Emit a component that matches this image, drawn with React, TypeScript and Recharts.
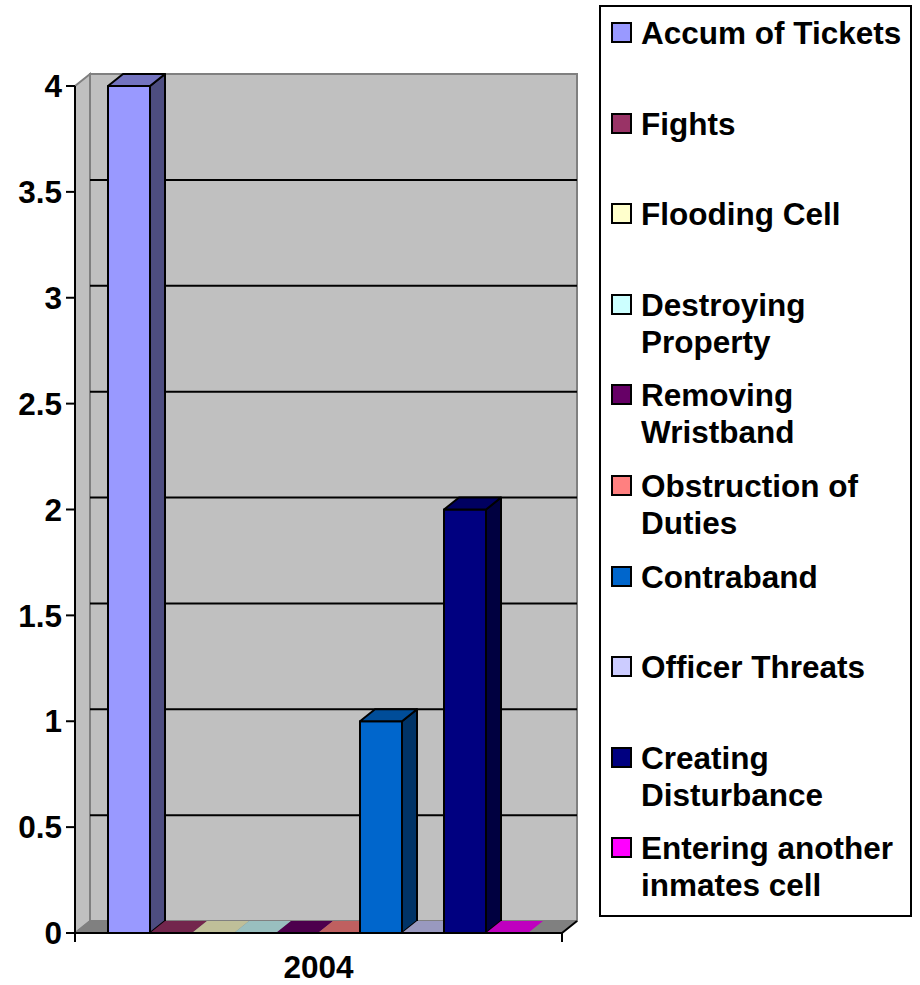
import { BarChart, Bar, XAxis, YAxis, CartesianGrid, ReferenceArea, Legend } from "recharts";

const years = ["2004"];
const seriesNames = [
  "Accum of Tickets",
  "Fights",
  "Flooding Cell",
  "Destroying Property",
  "Removing Wristband",
  "Obstruction of Duties",
  "Contraband",
  "Officer Threats",
  "Creating Disturbance",
  "Entering another inmates cell",
];
const seriesValues = [4, 0, 0, 0, 0, 0, 1, 0, 2, 0];
const seriesColors = [
  "#9999FF",
  "#993366",
  "#FFFFCC",
  "#CCFFFF",
  "#660066",
  "#FF8080",
  "#0066CC",
  "#CCCCFF",
  "#000080",
  "#FF00FF",
];
const yTicks = [0, 0.5, 1, 1.5, 2, 2.5, 3, 3.5, 4];

const data = years.map((year) => {
  const row: Record<string, string | number> = { year };
  seriesValues.forEach((v, i) => {
    row[`s${i}`] = v;
  });
  return row;
});

const FONT = "'Liberation Sans', Arial, Helvetica, sans-serif";
// depth of the fake 3d
const DX = 15;
const DY = -12;

function shade(hex: string, k: number) {
  const n = parseInt(hex.slice(1), 16);
  const r = Math.round(((n >> 16) & 255) * k);
  const g = Math.round(((n >> 8) & 255) * k);
  const b = Math.round((n & 255) * k);
  return `rgb(${r},${g},${b})`;
}

function Bar3D(props: any) {
  const { x, y, width, height, fill } = props;
  const top = shade(fill, 0.75);
  const side = shade(fill, 0.5);
  if (!height || height < 0.5) {
    return (
      <polygon
        points={`${x},${y} ${x + DX},${y + DY} ${x + width + DX},${y + DY} ${x + width},${y}`}
        fill={top}
      />
    );
  }
  return (
    <g stroke="#000" strokeWidth={2} strokeLinejoin="round">
      <rect x={x} y={y} width={width} height={height} fill={fill} />
      <polygon
        points={`${x + width},${y} ${x + width + DX},${y + DY} ${x + width + DX},${y + height + DY} ${x + width},${y + height}`}
        fill={side}
      />
      <polygon
        points={`${x},${y} ${x + DX},${y + DY} ${x + width + DX},${y + DY} ${x + width},${y}`}
        fill={top}
      />
    </g>
  );
}

function Walls(props: any) {
  const { x, y, width, height } = props;
  const b = y + height;
  const r = x + width;
  return (
    <g>
      <rect x={x + DX} y={y + DY} width={width} height={height} fill="#C0C0C0" stroke="#808080" strokeWidth={2} />
      <polygon
        points={`${x},${y} ${x + DX},${y + DY} ${x + DX},${b + DY} ${x},${b}`}
        fill="#C0C0C0"
        stroke="#808080"
        strokeWidth={2}
      />
      <polygon
        points={`${x},${b} ${x + DX},${b + DY} ${r + DX},${b + DY} ${r},${b}`}
        fill="#808080"
        stroke="#808080"
        strokeWidth={1}
      />
      <line x1={r} y1={b} x2={r + DX} y2={b + DY} stroke="#000" strokeWidth={2} />
      <line x1={x} y1={b} x2={x} y2={b + 9} stroke="#000" strokeWidth={2} />
      <line x1={r} y1={b} x2={r} y2={b + 9} stroke="#000" strokeWidth={2} />
    </g>
  );
}

function YearTick(props: any) {
  const { x, y, payload } = props;
  return (
    <text x={x} y={y + 45} textAnchor="middle" fontFamily={FONT} fontWeight="bold" fontSize={31.5} fill="#000">
      {payload.value}
    </text>
  );
}

function LegendBox(props: any) {
  const payload = [...(props.payload || [])].sort(
    (a: any, b: any) => seriesNames.indexOf(a.value) - seriesNames.indexOf(b.value)
  );
  return (
    <div
      style={{
        boxSizing: "border-box",
        width: 313,
        height: 912,
        border: "2px solid #000",
        background: "#fff",
        paddingTop: 8,
        paddingLeft: 10,
        fontFamily: FONT,
        fontWeight: "bold",
        fontSize: 31.5,
        color: "#000",
        textAlign: "left",
      }}
    >
      {payload.map((p: any) => (
        <div key={p.value} style={{ display: "flex", alignItems: "flex-start", height: 90.6 }}>
          <span
            style={{
              boxSizing: "border-box",
              width: 21,
              height: 21,
              border: "2px solid #000",
              background: p.color,
              marginTop: 7,
              marginRight: 9,
              flex: "none",
            }}
          />
          <span style={{ lineHeight: "37px", width: 268 }}>{p.value}</span>
        </div>
      ))}
    </div>
  );
}

export default function App() {
  return (
    <div style={{ position: "absolute", left: 0, top: 0, width: 920, height: 985, background: "#fff" }}>
      <BarChart
        width={920}
        height={985}
        data={data}
        margin={{ top: 86, right: 358, bottom: 0, left: 0 }}
        barCategoryGap={33}
        barGap={0}
      >
        <ReferenceArea y1={0} y2={4} shape={<Walls />} ifOverflow="visible" zIndex={-150} />
        <CartesianGrid
          vertical={false}
          horizontalValues={yTicks.slice(1, -1)}
          horizontal={(p: any) => (
            <line
              key={`g${p.index}`}
              x1={p.x1 + DX}
              x2={p.x2 + DX}
              y1={p.y1 + DY}
              y2={p.y2 + DY}
              stroke="#000"
              strokeWidth={2}
            />
          )}
        />
        <XAxis
          dataKey="year"
          axisLine={{ stroke: "#000", strokeWidth: 2 }}
          tickLine={false}
          tickSize={0}
          tickMargin={0}
          tick={<YearTick />}
          height={52}
        />
        <YAxis
          domain={[0, 4]}
          ticks={yTicks}
          width={75}
          axisLine={{ stroke: "#000", strokeWidth: 2 }}
          tickLine={{ stroke: "#000", strokeWidth: 2 }}
          tickSize={9}
          tickMargin={4}
          tick={{ fill: "#000", fontFamily: FONT, fontWeight: "bold", fontSize: 31.5 }}
        />
        <Legend
          layout="horizontal"
          verticalAlign="middle"
          align="center"
          content={(p: any) => <LegendBox {...p} />}
          wrapperStyle={{ left: 599, top: 5, width: 313, height: 912 }}
        />
        {seriesNames.map((name, i) => (
          <Bar
            key={name}
            dataKey={`s${i}`}
            name={name}
            fill={seriesColors[i]}
            shape={<Bar3D />}
            isAnimationActive={false}
          />
        ))}
      </BarChart>
    </div>
  );
}
